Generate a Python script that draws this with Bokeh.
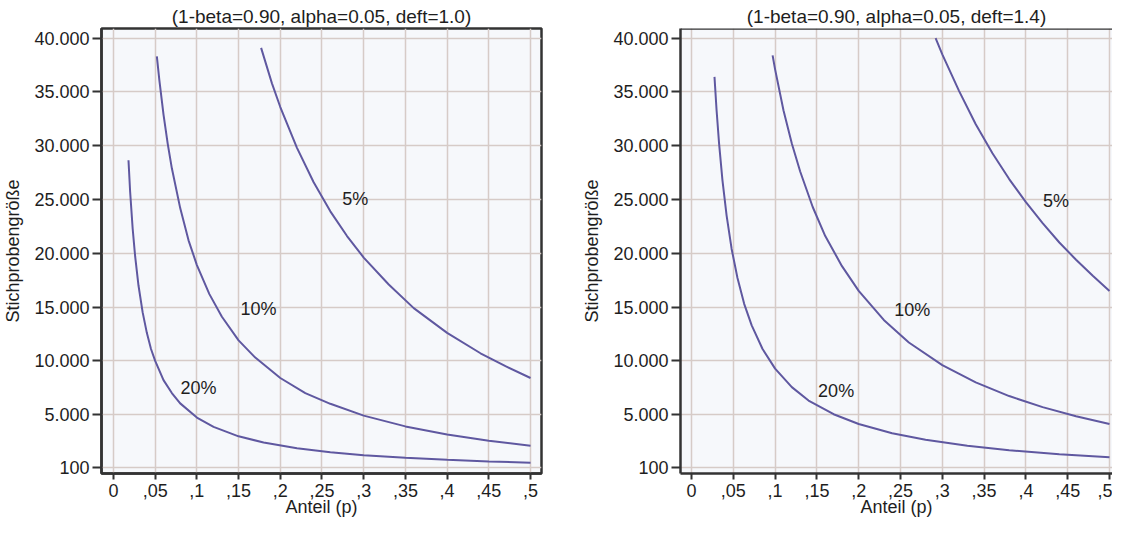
from bokeh.plotting import figure
from bokeh.layouts import row
from bokeh.models import FixedTicker, Range1d, Span
from bokeh.embed import file_html
from bokeh.resources import INLINE

# ---------------- data ----------------
x_ticks = [0, 0.05, 0.1, 0.15, 0.2, 0.25, 0.3, 0.35, 0.4, 0.45, 0.5]
x_tick_labels = ["0", ",05", ",1", ",15", ",2", ",25", ",3", ",35", ",4", ",45", ",5"]
y_ticks = [100, 5000, 10000, 15000, 20000, 25000, 30000, 35000, 40000]
y_tick_labels = ["100", "5.000", "10.000", "15.000", "20.000", "25.000", "30.000", "35.000", "40.000"]

titles = ["(1-beta=0.90, alpha=0.05, deft=1.0)", "(1-beta=0.90, alpha=0.05, deft=1.4)"]
x_title = "Anteil (p)"
y_title = "Stichprobengröße"

# deft = 1.0
p_d10_20 = [0.018, 0.020, 0.023, 0.026, 0.030, 0.035, 0.040, 0.045, 0.05, 0.06, 0.07, 0.08, 0.10, 0.12,
            0.15, 0.18, 0.22, 0.26, 0.30, 0.35, 0.40, 0.45, 0.50]
n_d10_20 = [28650, 25700, 22300, 19700, 17000, 14500, 12600, 11100, 10000, 8200, 7000, 6040, 4725, 3850,
            2975, 2400, 1860, 1490, 1225, 975, 790, 640, 525]
p_d10_10 = [0.052, 0.055, 0.06, 0.065, 0.07, 0.08, 0.09, 0.10, 0.115, 0.13, 0.15, 0.17, 0.20, 0.23,
            0.26, 0.30, 0.35, 0.40, 0.45, 0.50]
n_d10_10 = [38300, 36100, 32900, 30200, 27900, 24200, 21200, 18900, 16200, 14100, 11900, 10300, 8400, 7000,
            6000, 4900, 3900, 3150, 2570, 2100]
p_d10_05 = [0.177, 0.19, 0.20, 0.22, 0.24, 0.26, 0.28, 0.30, 0.33, 0.36, 0.40, 0.44, 0.47, 0.50]
n_d10_05 = [39100, 35800, 33600, 29800, 26600, 23900, 21600, 19600, 17100, 14900, 12600, 10700, 9500, 8400]

# deft = 1.4
p_d14_20 = [0.0275, 0.030, 0.033, 0.037, 0.042, 0.048, 0.055, 0.063, 0.072, 0.085, 0.10, 0.12, 0.14,
            0.17, 0.20, 0.24, 0.28, 0.33, 0.38, 0.44, 0.50]
n_d14_20 = [36400, 33300, 30200, 26800, 23500, 20400, 17700, 15300, 13300, 11100, 9270, 7550, 6300,
            5030, 4120, 3260, 2650, 2090, 1680, 1310, 1030]
p_d14_10 = [0.097, 0.10, 0.11, 0.12, 0.13, 0.145, 0.16, 0.18, 0.20, 0.23, 0.26, 0.30, 0.34, 0.38,
            0.42, 0.46, 0.50]
n_d14_10 = [38400, 37100, 33300, 30200, 27600, 24300, 21600, 18800, 16500, 13800, 11700, 9600, 8000, 6720,
            5690, 4840, 4120]
p_d14_05 = [0.292, 0.30, 0.32, 0.34, 0.36, 0.38, 0.40, 0.42, 0.44, 0.46, 0.48, 0.50]
n_d14_05 = [40000, 38500, 35100, 32000, 29300, 26900, 24750, 22800, 21000, 19400, 17900, 16500]

curve_labels = ["5%", "10%", "20%"]
label_p_d10 = [0.29, 0.174, 0.102]
label_n_d10 = [25000, 14800, 7450]
label_p_d14 = [0.436, 0.264, 0.173]
label_n_d14 = [24900, 14700, 7200]

# ---------------- styling ----------------
FONT = "Liberation Sans"
TXT = "#1e1e1e"
LINE = "#5f58a0"
GRID = "#d6cbc7"
AX = "#333333"
Y_RANGE = (-480, 40900)


def make_fig(title, width, x_range, mbl, mbr, outline):
    p = figure(width=width, height=520, x_range=Range1d(*x_range), y_range=Range1d(*Y_RANGE),
               output_backend="svg", toolbar_location=None, title=title,
               min_border_left=mbl, min_border_right=mbr, min_border_top=28, min_border_bottom=47)
    p.background_fill_color = "#f6f8fb"
    p.border_fill_color = "white"
    if outline:
        p.outline_line_color = AX
        p.outline_line_width = 2.5
    else:
        p.outline_line_color = None
        p.add_layout(Span(location=Y_RANGE[1], dimension="width", line_color=AX, line_width=2.5))

    p.title.align = "center"
    p.title.text_font = FONT
    p.title.text_font_size = "19px"
    p.title.text_font_style = "normal"
    p.title.text_color = TXT
    p.title.standoff = 3

    p.xaxis.ticker = FixedTicker(ticks=x_ticks)
    p.xaxis.major_label_overrides = dict(zip(x_ticks, x_tick_labels))
    p.yaxis.ticker = FixedTicker(ticks=y_ticks)
    p.yaxis.major_label_overrides = dict(zip(y_ticks, y_tick_labels))
    p.xgrid.ticker = FixedTicker(ticks=x_ticks)
    p.ygrid.ticker = FixedTicker(ticks=y_ticks)
    for g in (p.xgrid, p.ygrid):
        g.grid_line_color = GRID
        g.grid_line_width = 1.5

    p.xaxis.axis_label = x_title
    p.yaxis.axis_label = y_title
    for ax in (p.xaxis, p.yaxis):
        ax.axis_line_color = AX
        ax.axis_line_width = 2.5
        ax.major_tick_line_color = AX
        ax.major_tick_line_width = 2
        ax.major_tick_in = 0
        ax.minor_tick_in = 0
        ax.minor_tick_out = 0
        ax.major_label_text_font = FONT
        ax.major_label_text_font_size = "18px"
        ax.major_label_text_color = TXT
        ax.axis_label_text_font = FONT
        ax.axis_label_text_font_size = "18px"
        ax.axis_label_text_font_style = "normal"
        ax.axis_label_text_color = TXT
    p.xaxis.major_tick_out = 6
    p.xaxis.major_label_standoff = 4
    p.xaxis.axis_label_standoff = -3
    p.yaxis.major_tick_out = 9
    p.yaxis.major_label_standoff = 3
    p.yaxis.axis_label_standoff = 8
    return p


p1 = make_fig(titles[0], 570, (-0.01435, 0.51316), 100, 29, True)
for px, ny in ((p_d10_20, n_d10_20), (p_d10_10, n_d10_10), (p_d10_05, n_d10_05)):
    p1.line(px, ny, line_color=LINE, line_width=2)
p1.text(x=label_p_d10, y=label_n_d10, text=curve_labels, text_align="center", text_baseline="middle",
        text_font={"value": FONT}, text_font_size="18px", text_color=TXT)

p2 = make_fig(titles[1], 542, (-0.01316, 0.5036), 110, 0, False)
for px, ny in ((p_d14_20, n_d14_20), (p_d14_10, n_d14_10), (p_d14_05, n_d14_05)):
    p2.line(px, ny, line_color=LINE, line_width=2)
p2.text(x=label_p_d14, y=label_n_d14, text=curve_labels, text_align="center", text_baseline="middle",
        text_font={"value": FONT}, text_font_size="18px", text_color=TXT)

layout = row(p1, p2)
open("out.html", "w").write(file_html(layout, INLINE))
